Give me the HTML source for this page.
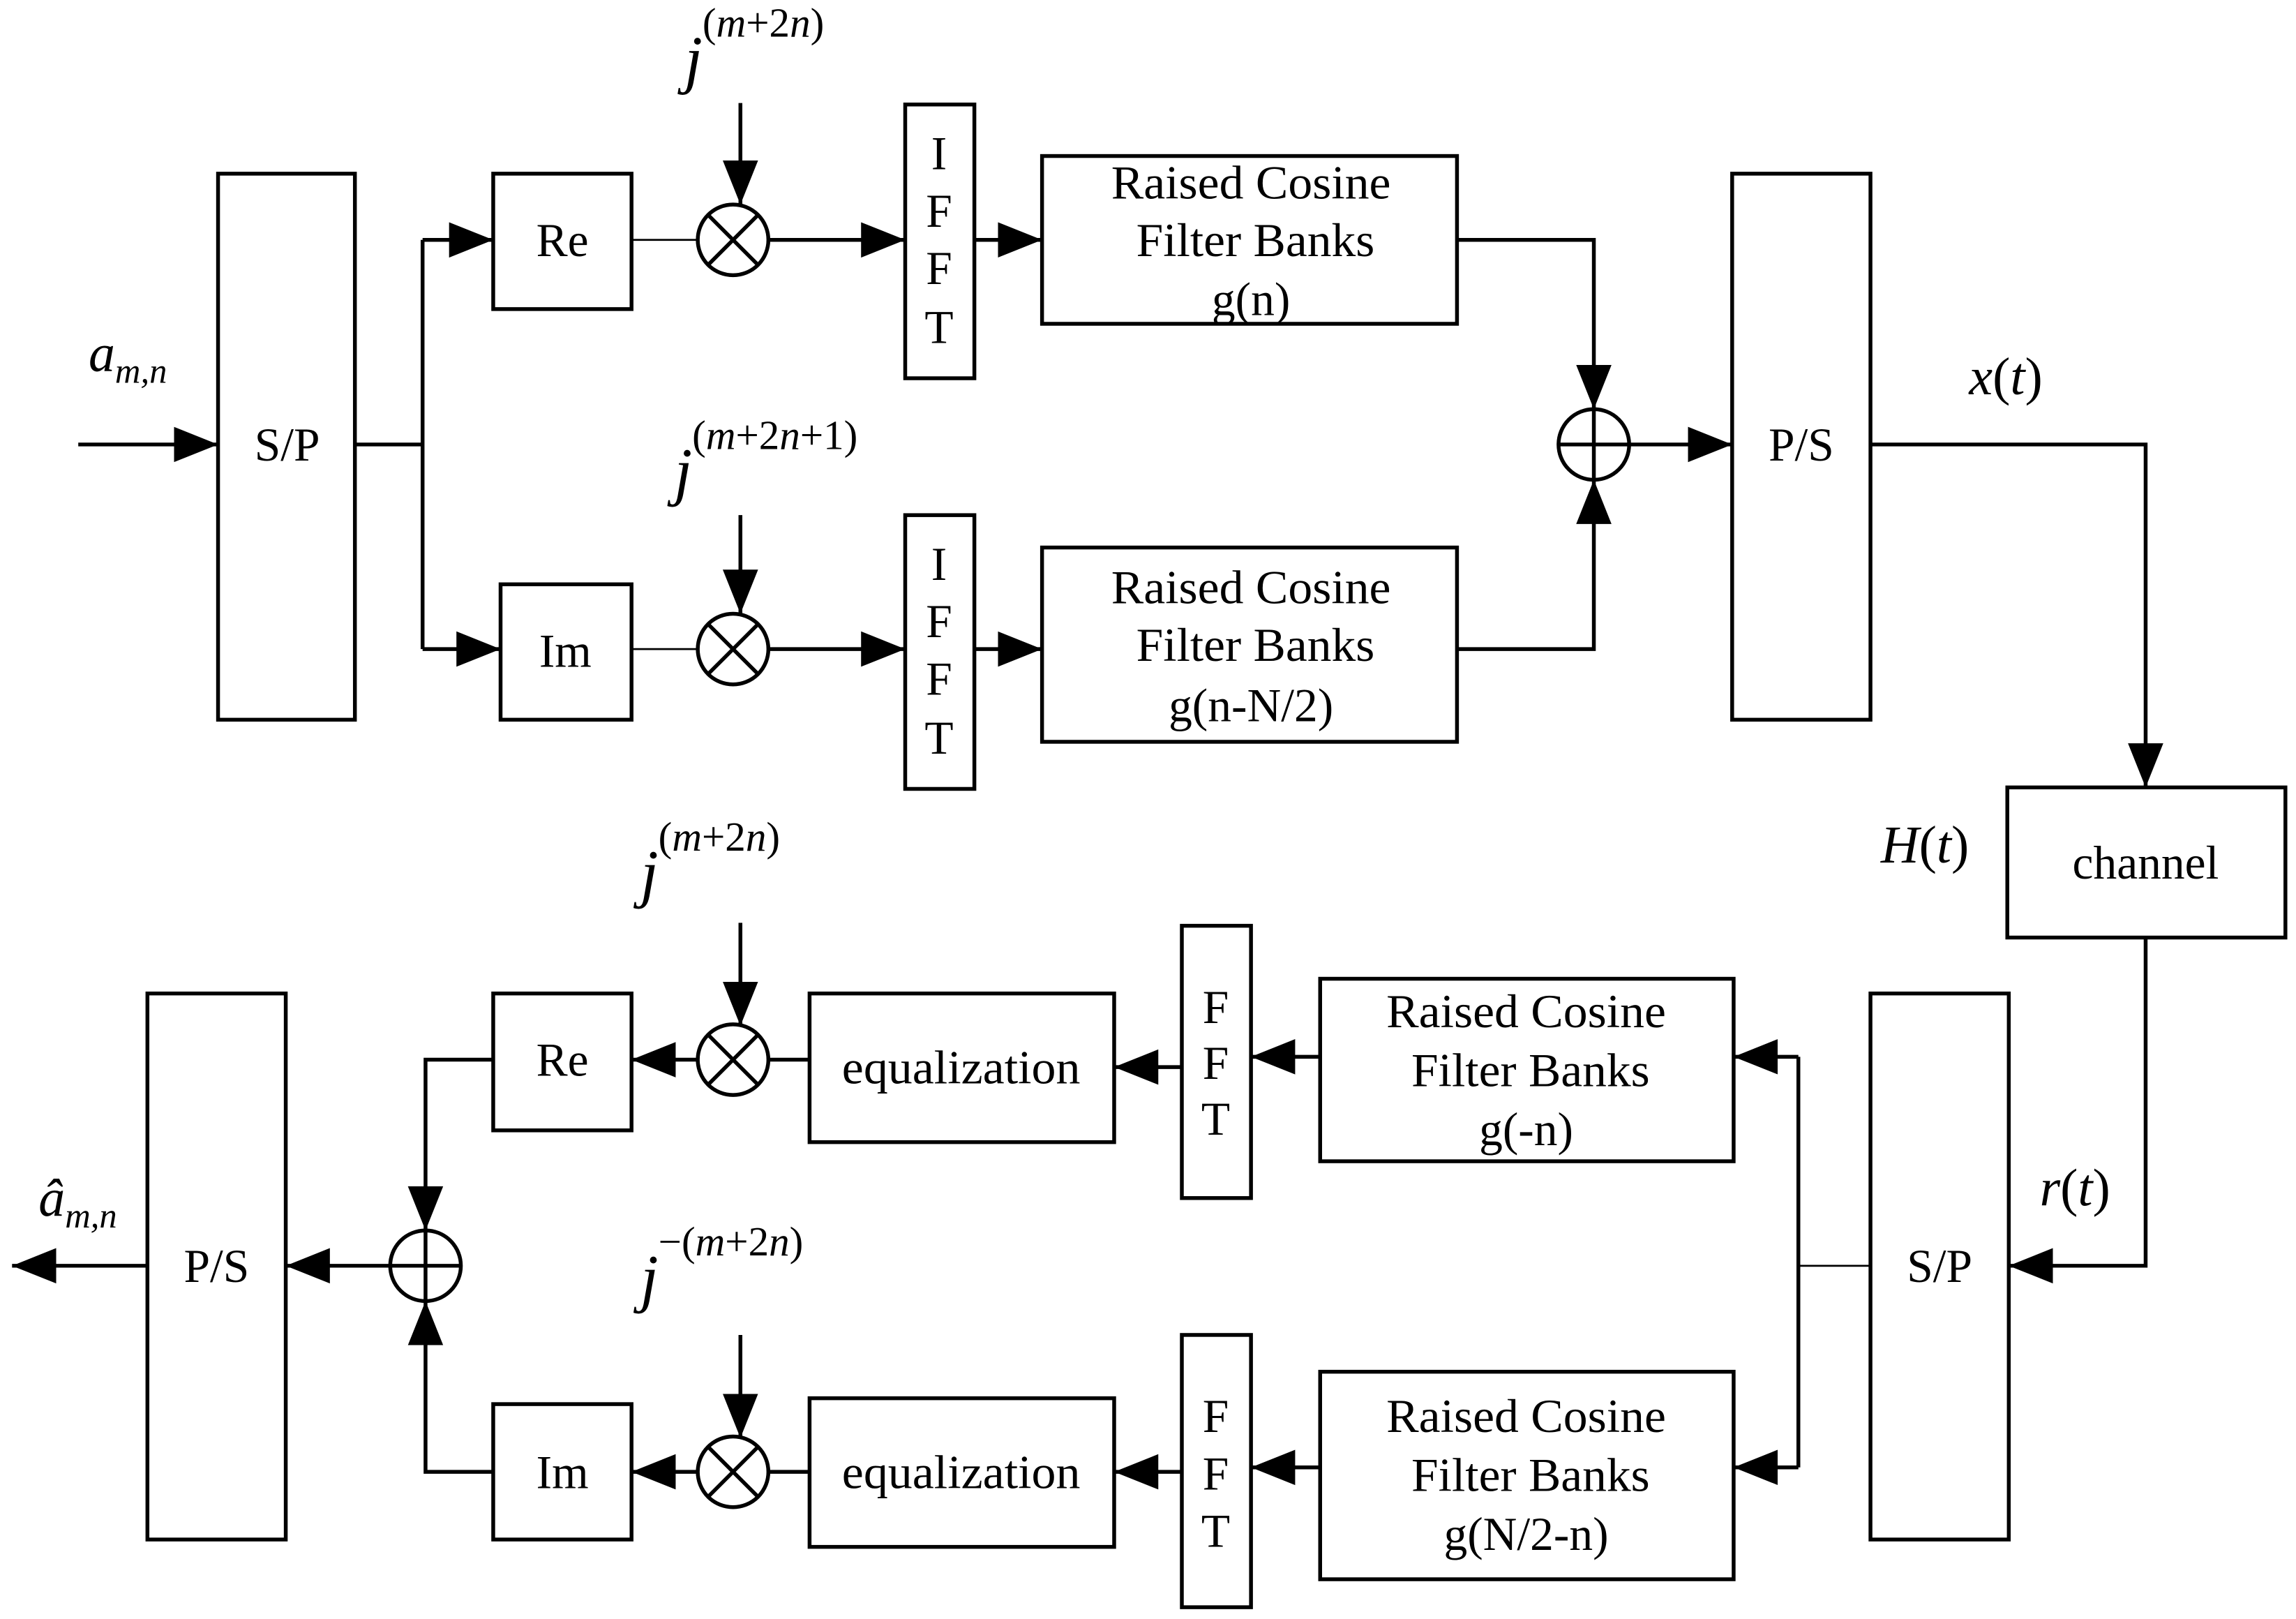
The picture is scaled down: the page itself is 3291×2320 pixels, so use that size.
<!DOCTYPE html>
<html><head><style>html,body{margin:0;padding:0;background:#fff}svg{display:block}</style></head>
<body>
<svg width="3291" height="2320" viewBox="0 0 1560 1100" xmlns="http://www.w3.org/2000/svg" font-family="Liberation Serif, serif">
<defs>
<marker id="a" markerUnits="userSpaceOnUse" markerWidth="32" markerHeight="26" refX="30" refY="13" orient="auto"><path d="M0,1 L30,13 L0,25 Z" fill="#000"/></marker>
</defs>
<g fill="none" stroke="#000" stroke-width="2.6">
<rect x="148" y="118" width="93" height="371"/>
<rect x="335" y="118" width="94" height="92"/>
<rect x="340" y="397" width="89" height="92"/>
<rect x="615" y="71" width="47" height="186"/>
<rect x="615" y="350" width="47" height="186"/>
<rect x="708" y="106" width="282" height="114"/>
<rect x="708" y="372" width="282" height="132"/>
<rect x="1177" y="118" width="94" height="371"/>
<rect x="1364" y="535" width="189" height="102"/>
<rect x="1271" y="675" width="94" height="371"/>
<rect x="897" y="665" width="281" height="124"/>
<rect x="897" y="932" width="281" height="141"/>
<rect x="803" y="629" width="47" height="185"/>
<rect x="803" y="907" width="47" height="185"/>
<rect x="550" y="675" width="207" height="101"/>
<rect x="550" y="950" width="207" height="101"/>
<rect x="335" y="675" width="94" height="93"/>
<rect x="335" y="954" width="94" height="92"/>
<rect x="100" y="675" width="94" height="371"/>
<circle cx="498" cy="163" r="24"/><path d="M481,146 L515,180 M515,146 L481,180"/>
<circle cx="498" cy="441" r="24"/><path d="M481,424 L515,458 M515,424 L481,458"/>
<circle cx="498" cy="720" r="24"/><path d="M481,703 L515,737 M515,703 L481,737"/>
<circle cx="498" cy="1000" r="24"/><path d="M481,983 L515,1017 M515,983 L481,1017"/>
<circle cx="1083" cy="302" r="24"/><path d="M1059,302 H1107 M1083,278 V326"/>
<circle cx="289" cy="860" r="24"/><path d="M265,860 H313 M289,836 V884"/>
<path d="M53,302 H148" marker-end="url(#a)"/>
<path d="M241,302 H287 M287,163 V441"/>
<path d="M287,163 H335" marker-end="url(#a)"/>
<path d="M287,441 H340" marker-end="url(#a)"/>
<path d="M503,70 V139" marker-end="url(#a)"/>
<path d="M503,350 V417" marker-end="url(#a)"/>
<path d="M522,163 H615" marker-end="url(#a)"/>
<path d="M522,441 H615" marker-end="url(#a)"/>
<path d="M662,163 H708" marker-end="url(#a)"/>
<path d="M662,441 H708" marker-end="url(#a)"/>
<path d="M990,163 H1083 V278" marker-end="url(#a)"/>
<path d="M990,441 H1083 V326" marker-end="url(#a)"/>
<path d="M1107,302 H1177" marker-end="url(#a)"/>
<path d="M1271,302 H1458 V535" marker-end="url(#a)"/>
<path d="M1458,637 V860 H1365" marker-end="url(#a)"/>
<path d="M1222,718 V997"/>
<path d="M1222,718 H1178" marker-end="url(#a)"/>
<path d="M1222,997 H1178" marker-end="url(#a)"/>
<path d="M897,718 H850" marker-end="url(#a)"/>
<path d="M897,997 H850" marker-end="url(#a)"/>
<path d="M803,725 H757" marker-end="url(#a)"/>
<path d="M803,1000 H757" marker-end="url(#a)"/>
<path d="M550,720 H522"/>
<path d="M550,1000 H522"/>
<path d="M474,720 H429" marker-end="url(#a)"/>
<path d="M474,1000 H429" marker-end="url(#a)"/>
<path d="M503,627 V697" marker-end="url(#a)"/>
<path d="M503,907 V977" marker-end="url(#a)"/>
<path d="M335,720 H289 V836" marker-end="url(#a)"/>
<path d="M335,1000 H289 V884" marker-end="url(#a)"/>
<path d="M265,860 H194" marker-end="url(#a)"/>
<path d="M100,860 H8" marker-end="url(#a)"/>
</g>
<g fill="none" stroke="#000" stroke-width="1.3">
<path d="M429,163 H474 M429,441 H474 M1271,860 H1222"/>
</g>
<g font-size="32" text-anchor="middle" fill="#000">
<text x="195" y="313">S/P</text>
<text x="382" y="174">Re</text>
<text x="384" y="453">Im</text>
<text x="638" y="115">I</text><text x="638" y="154">F</text><text x="638" y="193">F</text><text x="638" y="233">T</text>
<text x="638" y="394">I</text><text x="638" y="433">F</text><text x="638" y="472">F</text><text x="638" y="512">T</text>
<text x="850" y="135" textLength="190" lengthAdjust="spacingAndGlyphs">Raised Cosine</text><text x="853" y="174" textLength="162" lengthAdjust="spacingAndGlyphs">Filter Banks</text><text x="850" y="214">g(n)</text>
<text x="850" y="410" textLength="190" lengthAdjust="spacingAndGlyphs">Raised Cosine</text><text x="853" y="449" textLength="162" lengthAdjust="spacingAndGlyphs">Filter Banks</text><text x="850" y="490">g(n-N/2)</text>
<text x="1224" y="313">P/S</text>
<text x="1458" y="597">channel</text>
<text x="1318" y="871">S/P</text>
<text x="1037" y="698" textLength="190" lengthAdjust="spacingAndGlyphs">Raised Cosine</text><text x="1040" y="738" textLength="162" lengthAdjust="spacingAndGlyphs">Filter Banks</text><text x="1037" y="778">g(-n)</text>
<text x="1037" y="973" textLength="190" lengthAdjust="spacingAndGlyphs">Raised Cosine</text><text x="1040" y="1013" textLength="162" lengthAdjust="spacingAndGlyphs">Filter Banks</text><text x="1037" y="1053">g(N/2-n)</text>
<text x="826" y="695">F</text><text x="826" y="733">F</text><text x="826" y="771">T</text>
<text x="826" y="973">F</text><text x="826" y="1012">F</text><text x="826" y="1051">T</text>
<text x="653" y="736" textLength="162" lengthAdjust="spacingAndGlyphs">equalization</text>
<text x="653" y="1011" textLength="162" lengthAdjust="spacingAndGlyphs">equalization</text>
<text x="382" y="731">Re</text>
<text x="382" y="1011">Im</text>
<text x="147" y="871">P/S</text>
</g>
<g fill="#000" font-style="italic">
<text x="60" y="252" font-size="36">a<tspan font-size="24" dy="8">m,n</tspan></text>
<text x="26" y="826" font-size="36">â<tspan font-size="24" dy="8">m,n</tspan></text>
<text x="465" y="55" font-size="44">j<tspan font-size="28" dy="-30" font-style="normal">(</tspan><tspan font-size="28">m</tspan><tspan font-size="28" font-style="normal">+2</tspan><tspan font-size="28">n</tspan><tspan font-size="28" font-style="normal">)</tspan></text>
<text x="458" y="335" font-size="44">j<tspan font-size="28" dy="-30" font-style="normal">(</tspan><tspan font-size="28">m</tspan><tspan font-size="28" font-style="normal">+2</tspan><tspan font-size="28">n</tspan><tspan font-size="28" font-style="normal">+1)</tspan></text>
<text x="435" y="608" font-size="44">j<tspan font-size="28" dy="-30" font-style="normal">(</tspan><tspan font-size="28">m</tspan><tspan font-size="28" font-style="normal">+2</tspan><tspan font-size="28">n</tspan><tspan font-size="28" font-style="normal">)</tspan></text>
<text x="435" y="883" font-size="44">j<tspan font-size="28" dy="-30" font-style="normal">−(</tspan><tspan font-size="28">m</tspan><tspan font-size="28" font-style="normal">+2</tspan><tspan font-size="28">n</tspan><tspan font-size="28" font-style="normal">)</tspan></text>
<text x="1338" y="268" font-size="36">x<tspan font-style="normal">(</tspan>t<tspan font-style="normal">)</tspan></text>
<text x="1278" y="586" font-size="36">H<tspan font-style="normal">(</tspan>t<tspan font-style="normal">)</tspan></text>
<text x="1386" y="819" font-size="36">r<tspan font-style="normal">(</tspan>t<tspan font-style="normal">)</tspan></text>
</g>
</svg>
</body></html>
